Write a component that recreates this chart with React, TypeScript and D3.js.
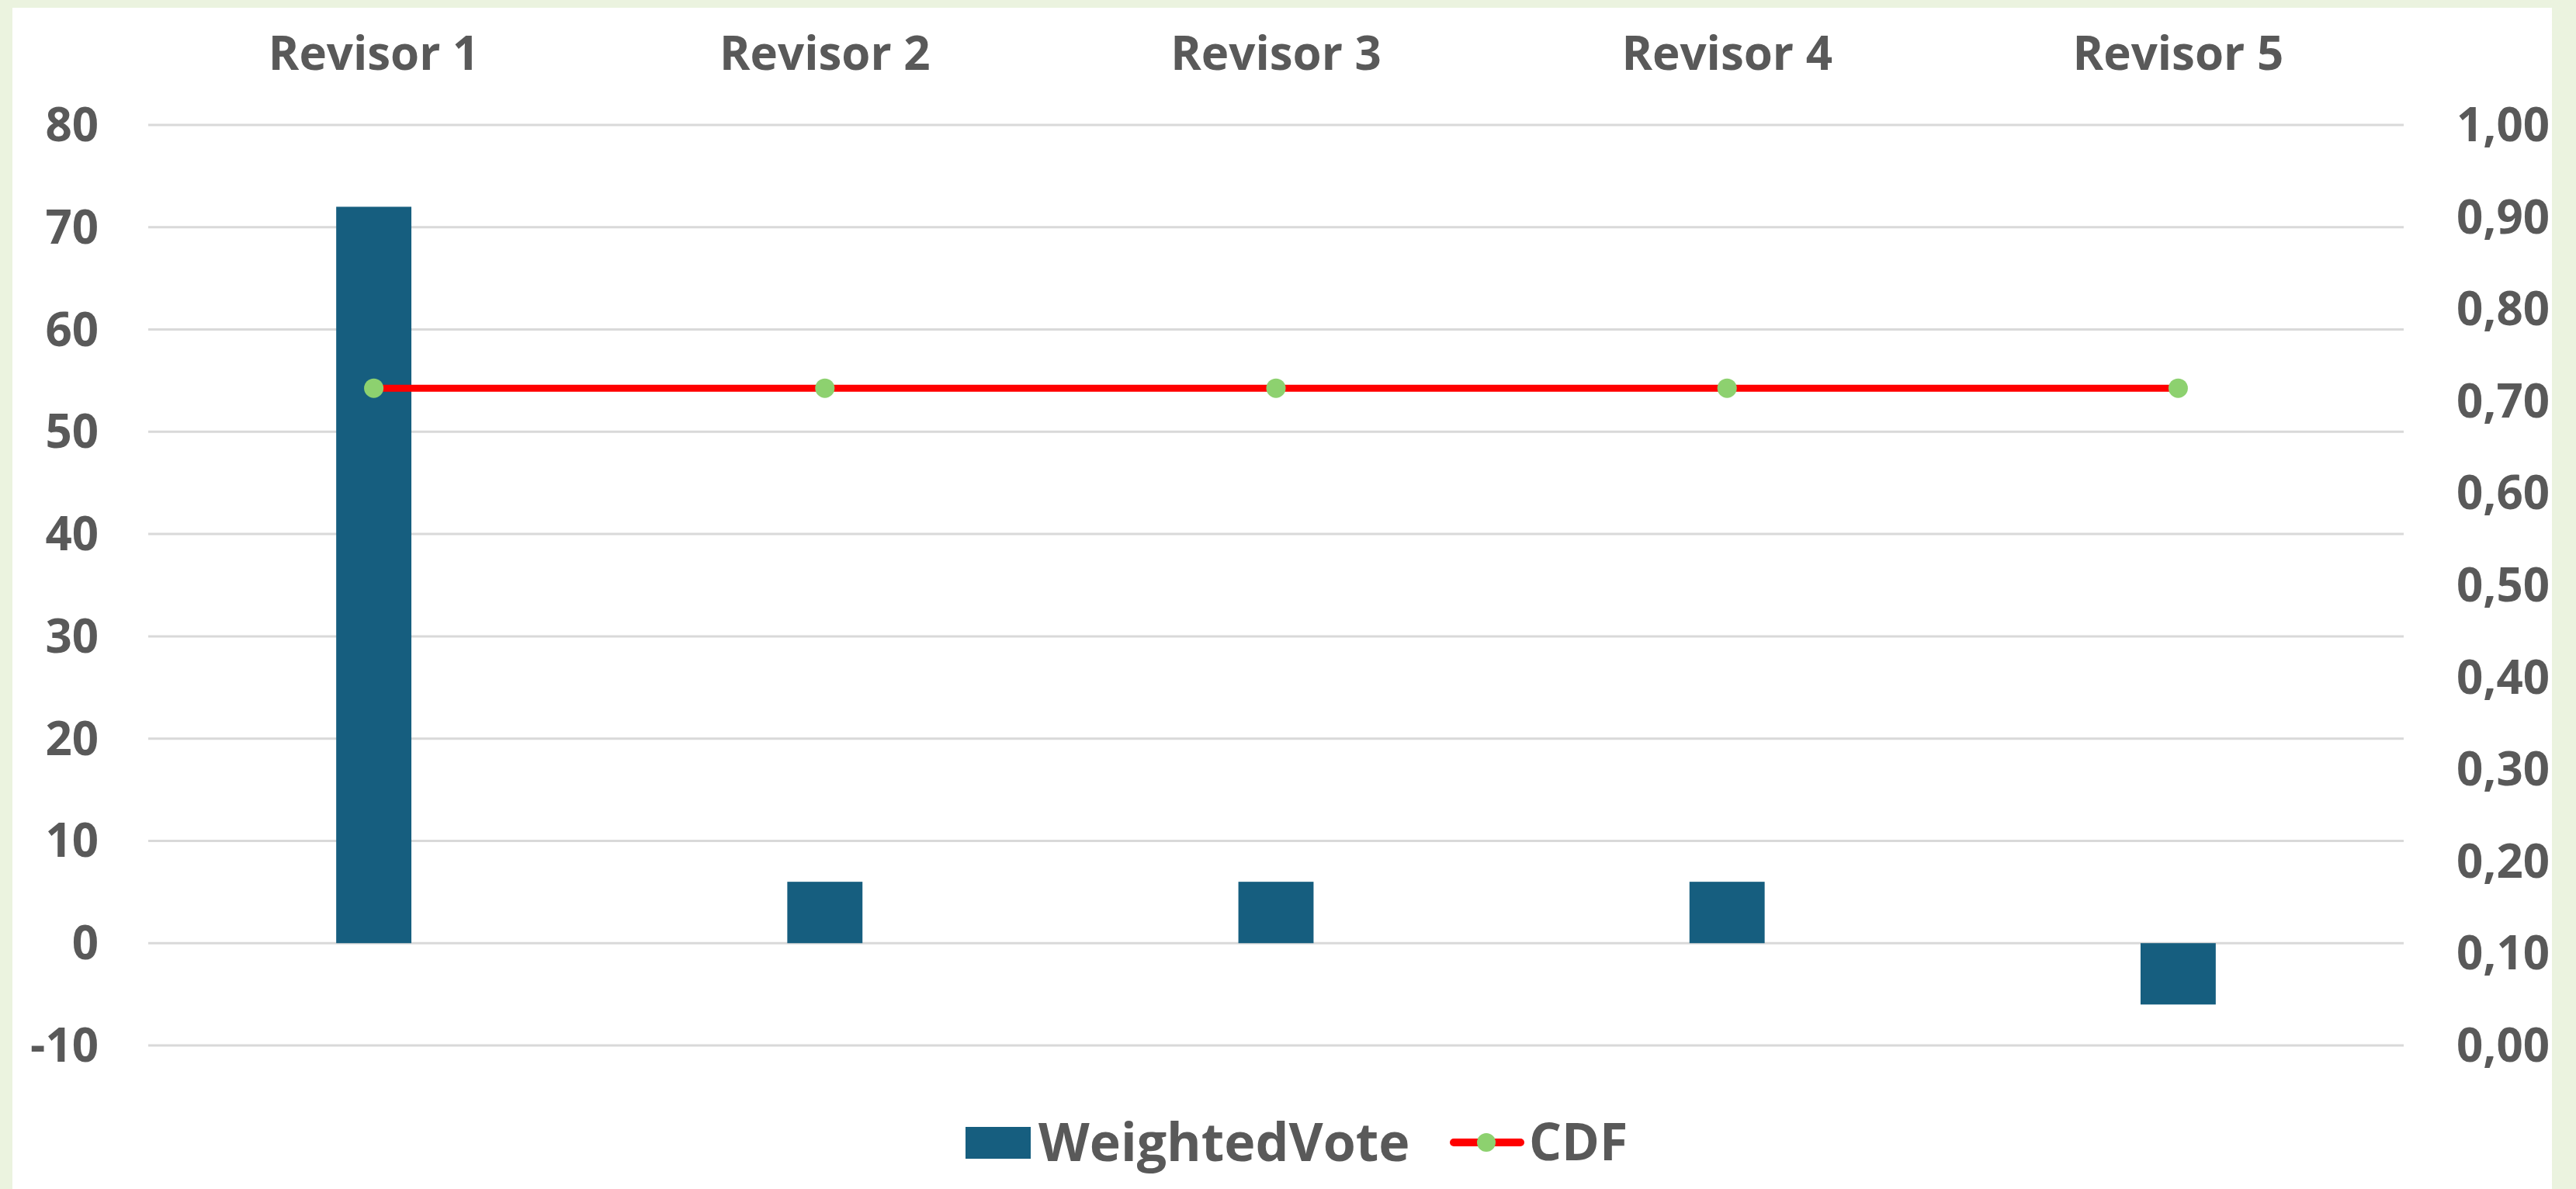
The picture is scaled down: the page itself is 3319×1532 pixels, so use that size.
import React from "react";
import * as d3 from "d3";

const categories = ["Revisor 1", "Revisor 2", "Revisor 3", "Revisor 4", "Revisor 5"];
const weightedVote = [72, 6, 6, 6, -6];
const cdf = [0.714, 0.714, 0.714, 0.714, 0.714];
const leftTicks = [-10, 0, 10, 20, 30, 40, 50, 60, 70, 80];
const rightTicks = [0, 0.1, 0.2, 0.3, 0.4, 0.5, 0.6, 0.7, 0.8, 0.9, 1.0];

const W = 3319;
const H = 1532;
const FONT = "'Open Sans', 'Noto Sans', sans-serif";
const TEXT = "#595959";
const BAR = "#165e7f";
const RED = "#ff0000";
const GREEN = "#8dd16f";

export default function App() {
  const x = d3.scaleBand<string>().domain(categories).range([191, 3097]).paddingInner(0).paddingOuter(0);
  const y = d3.scaleLinear().domain([-10, 80]).range([1347, 161]);
  const y2 = d3.scaleLinear().domain([0, 1]).range([1347, 161]);
  const bw = x.bandwidth() / 6;
  const cx = (c: string) => (x(c) as number) + x.bandwidth() / 2;
  const line = d3
    .line<number>()
    .x((_, i) => cx(categories[i]))
    .y((d) => y2(d));
  const fmt = (v: number) => v.toFixed(2).replace(".", ",");

  const legendY = 1472;
  return (
    <svg width={W} height={H} style={{ position: "absolute", left: 0, top: 0 }} fontFamily={FONT}>
      <rect x={0} y={0} width={W} height={H} fill="#ebf3df" />
      <rect x={16} y={10} width={3272} height={H - 10} fill="#ffffff" />
      {leftTicks.map((t) => (
        <line key={"g" + t} x1={191} x2={3097} y1={y(t)} y2={y(t)} stroke="#d9d9d9" strokeWidth={3} />
      ))}
      {leftTicks.map((t) => (
        <text key={"l" + t} x={127} y={y(t)} dy="0.35em" textAnchor="end" fontSize={60} fontWeight={700} fill={TEXT}>
          {t}
        </text>
      ))}
      {rightTicks.map((t) => (
        <text key={"r" + t} x={3165} y={y2(t)} dy="0.35em" textAnchor="start" fontSize={60} fontWeight={700} fill={TEXT}>
          {fmt(t)}
        </text>
      ))}
      {categories.map((c) => (
        <text key={"c" + c} x={cx(c)} y={69} dy="0.35em" textAnchor="middle" fontSize={60} fontWeight={700} fill={TEXT}>
          {c}
        </text>
      ))}
      {weightedVote.map((v, i) => (
        <rect
          key={"b" + i}
          x={cx(categories[i]) - bw / 2}
          y={Math.min(y(v), y(0))}
          width={bw}
          height={Math.abs(y(v) - y(0))}
          fill={BAR}
        />
      ))}
      <path d={line(cdf) || ""} fill="none" stroke={RED} strokeWidth={9} />
      {cdf.map((v, i) => (
        <circle key={"p" + i} cx={cx(categories[i])} cy={y2(v)} r={12.5} fill={GREEN} />
      ))}
      <g>
        <rect x={1244} y={1452} width={84} height={41} fill={BAR} />
        <text x={1338} y={legendY} dy="0.35em" fontSize={68} fontWeight={700} fill={TEXT}>
          WeightedVote
        </text>
        <line x1={1873} x2={1959} y1={legendY} y2={legendY} stroke={RED} strokeWidth={10} strokeLinecap="round" />
        <circle cx={1915} cy={legendY} r={12} fill={GREEN} />
        <text x={1970} y={legendY} dy="0.35em" fontSize={66} fontWeight={700} fill={TEXT}>
          CDF
        </text>
      </g>
    </svg>
  );
}
